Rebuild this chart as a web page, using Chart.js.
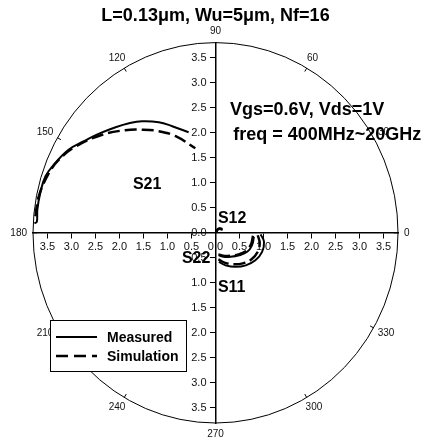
<!DOCTYPE html>
<html><head><meta charset="utf-8">
<script src="https://cdn.jsdelivr.net/npm/chart.js@4"></script>
<style>html,body{margin:0;padding:0;background:#fff}</style>
</head><body>
<canvas id="c" width="426" height="444"></canvas>
<script>
const titleText = 'L=0.13\u03bcm, Wu=5\u03bcm, Nf=16';
const tickValues = [-3.5,-3,-2.5,-2,-1.5,-1,-0.5,0,0.5,1,1.5,2,2.5,3,3.5];
const angleLabels = [0,30,60,90,120,150,180,210,240,270,300,330];
const outerRadius = 3.8;
const legendLabels = ['Measured','Simulation'];
const noteLines = ['Vgs=0.6V, Vds=1V','freq = 400MHz~20GHz'];
const curveLabels = ['S21','S12','S22','S11'];

const s21MeasRe = [-3.77,-3.72,-3.71,-3.65,-3.54,-3.33,-3.06,-2.74,-2.40,-2.08,-1.80,-1.53,-1.18,-0.90,-0.56];
const s21MeasIm = [0.19,0.22,0.46,0.79,1.13,1.40,1.66,1.83,1.99,2.11,2.19,2.23,2.21,2.13,2.01];
const s21SimRe = [-3.75,-3.68,-3.47,-3.26,-2.92,-2.36,-1.88,-1.53,-1.18,-0.83,-0.42];
const s21SimIm = [0.33,0.73,1.19,1.46,1.72,1.96,2.05,2.06,2.03,1.93,1.69];
const s11MeasRe = [0.94,1.01,0.97,0.83,0.63,0.42,0.21,0.07];
const s11MeasIm = [-0.03,-0.18,-0.38,-0.55,-0.65,-0.68,-0.65,-0.58];
const s11SimRe = [0.88,0.92,0.88,0.75,0.57,0.38,0.20,0.06];
const s11SimIm = [-0.05,-0.20,-0.38,-0.53,-0.61,-0.63,-0.60,-0.53];
const s22MeasRe = [0.80,0.76,0.66,0.49,0.31,0.17,0.07];
const s22MeasIm = [-0.08,-0.25,-0.38,-0.45,-0.48,-0.48,-0.45];
const s22SimRe = [0.78,0.74,0.64,0.48,0.30,0.16,0.06];
const s22SimIm = [-0.06,-0.23,-0.36,-0.43,-0.46,-0.46,-0.43];
const s12MeasRe = [0.02,0.03,0.08,0.14];
const s12MeasIm = [0.01,0.06,0.09,0.08];
const s12SimRe = [0.02,0.04,0.09,0.15];
const s12SimIm = [0.01,0.06,0.08,0.06];

const pts = (re, im) => re.map((x, i) => ({x, y: im[i]}));
const solid = (re, im) => ({data: pts(re, im), borderColor: '#000', borderWidth: 2, pointRadius: 0, tension: 0.4, fill: false});
const dashed = (re, im) => ({data: pts(re, im), borderColor: '#000', borderWidth: 2.5, borderDash: [12, 5], pointRadius: 0, tension: 0.4, fill: false});

const FONT = '"Liberation Sans", Arial, sans-serif';
const fmt = v => Math.abs(v).toFixed(1);

const polarDecor = {
  id: 'polarDecor',
  beforeDatasetsDraw(chart) {
    const {ctx, scales: {x, y}} = chart;
    const cx = x.getPixelForValue(0), cy = y.getPixelForValue(0);
    const rx = x.getPixelForValue(outerRadius) - cx;
    const ry = cy - y.getPixelForValue(outerRadius);
    ctx.save();
    ctx.strokeStyle = '#000';
    ctx.lineWidth = 1;
    ctx.beginPath();
    ctx.ellipse(cx, cy, rx, ry, 0, 0, Math.PI * 2);
    ctx.stroke();
    ctx.font = '10px ' + FONT;
    ctx.fillStyle = '#111';
    ctx.textAlign = 'center';
    ctx.textBaseline = 'middle';
    angleLabels.forEach(a => {
      const r = a * Math.PI / 180;
      const c = Math.cos(r), s = Math.sin(r);
      const px = x.getPixelForValue(outerRadius * c);
      const py = y.getPixelForValue(outerRadius * s);
      ctx.beginPath();
      ctx.moveTo(px, py);
      ctx.lineTo(px - c * 4, py + s * 4);
      ctx.stroke();
      const t = String(a);
      const w = ctx.measureText(t).width;
      ctx.fillText(t, px + c * (6 + w / 2), py - s * 11);
    });
    // y-axis tick labels, to the left of the centred axis
    ctx.font = '11px ' + FONT;
    ctx.textAlign = 'right';
    ctx.fillStyle = '#111';
    tickValues.forEach(v => ctx.fillText(fmt(v), cx - 9, y.getPixelForValue(v)));
    ctx.restore();
  },
  afterDraw(chart) {
    const {ctx, scales: {x, y}} = chart;
    ctx.save();
    ctx.fillStyle = '#000';
    ctx.textAlign = 'left';
    ctx.textBaseline = 'alphabetic';
    ctx.font = 'bold 18px ' + FONT;
    ctx.fillText(noteLines[0], x.getPixelForValue(0.30), y.getPixelForValue(2.36));
    ctx.fillText(noteLines[1], x.getPixelForValue(0.37), y.getPixelForValue(1.86));
    ctx.font = 'bold 16px ' + FONT;
    const lp = [[-1.72, 0.88], [0.05, 0.20], [-0.70, -0.60], [0.05, -1.18]];
    curveLabels.forEach((t, i) => ctx.fillText(t, x.getPixelForValue(lp[i][0]), y.getPixelForValue(lp[i][1])));
    // legend box
    const bx = 50, by = 320, bw = 136, bh = 51;
    ctx.fillStyle = '#fff';
    ctx.fillRect(bx, by, bw, bh);
    ctx.strokeStyle = '#000';
    ctx.lineWidth = 1;
    ctx.strokeRect(bx + 0.5, by + 0.5, bw, bh);
    ctx.lineWidth = 2;
    ctx.beginPath(); ctx.moveTo(56, 337); ctx.lineTo(97, 337); ctx.stroke();
    ctx.lineWidth = 2.5;
    ctx.setLineDash([12, 6]);
    ctx.beginPath(); ctx.moveTo(56, 356); ctx.lineTo(97, 356); ctx.stroke();
    ctx.setLineDash([]);
    ctx.fillStyle = '#000';
    ctx.font = 'bold 14px ' + FONT;
    ctx.textBaseline = 'middle';
    ctx.fillText(legendLabels[0], 107, 338);
    ctx.fillText(legendLabels[1], 107, 357);
    ctx.restore();
  }
};

const axisCommon = {
  type: 'linear',
  min: -outerRadius,
  max: outerRadius,
  afterBuildTicks: s => { s.ticks = tickValues.map(v => ({value: v})); },
  grid: {drawOnChartArea: false, drawTicks: true, tickLength: 5, color: '#000', tickWidth: 1},
  border: {display: true, color: '#000', width: 1.5},
  ticks: {
    color: '#111',
    font: {family: FONT, size: 11},
    autoSkip: false,
    maxRotation: 0,
    callback: v => fmt(v)
  }
};

new Chart(document.getElementById('c'), {
  type: 'scatter',
  data: {
    datasets: [
      solid(s21MeasRe, s21MeasIm), dashed(s21SimRe, s21SimIm),
      solid(s11MeasRe, s11MeasIm), dashed(s11SimRe, s11SimIm),
      solid(s22MeasRe, s22MeasIm), dashed(s22SimRe, s22SimIm),
      solid(s12MeasRe, s12MeasIm), dashed(s12SimRe, s12SimIm)
    ].map(d => Object.assign(d, {showLine: true}))
  },
  options: {
    responsive: false,
    animation: false,
    layout: {padding: {left: 33, right: 28, top: 0, bottom: 21}},
    plugins: {
      legend: {display: false},
      tooltip: {enabled: false},
      title: {display: true, text: titleText, color: '#000', font: {family: FONT, size: 18, weight: 'bold'}, padding: {top: 5, bottom: 16}}
    },
    scales: {
      x: Object.assign({}, axisCommon, {position: {y: 0}, ticks: Object.assign({}, axisCommon.ticks, {padding: 3})}),
      y: Object.assign({}, axisCommon, {position: {x: 0}, ticks: Object.assign({}, axisCommon.ticks, {display: false})})
    }
  },
  plugins: [polarDecor]
});
</script>
</body></html>
